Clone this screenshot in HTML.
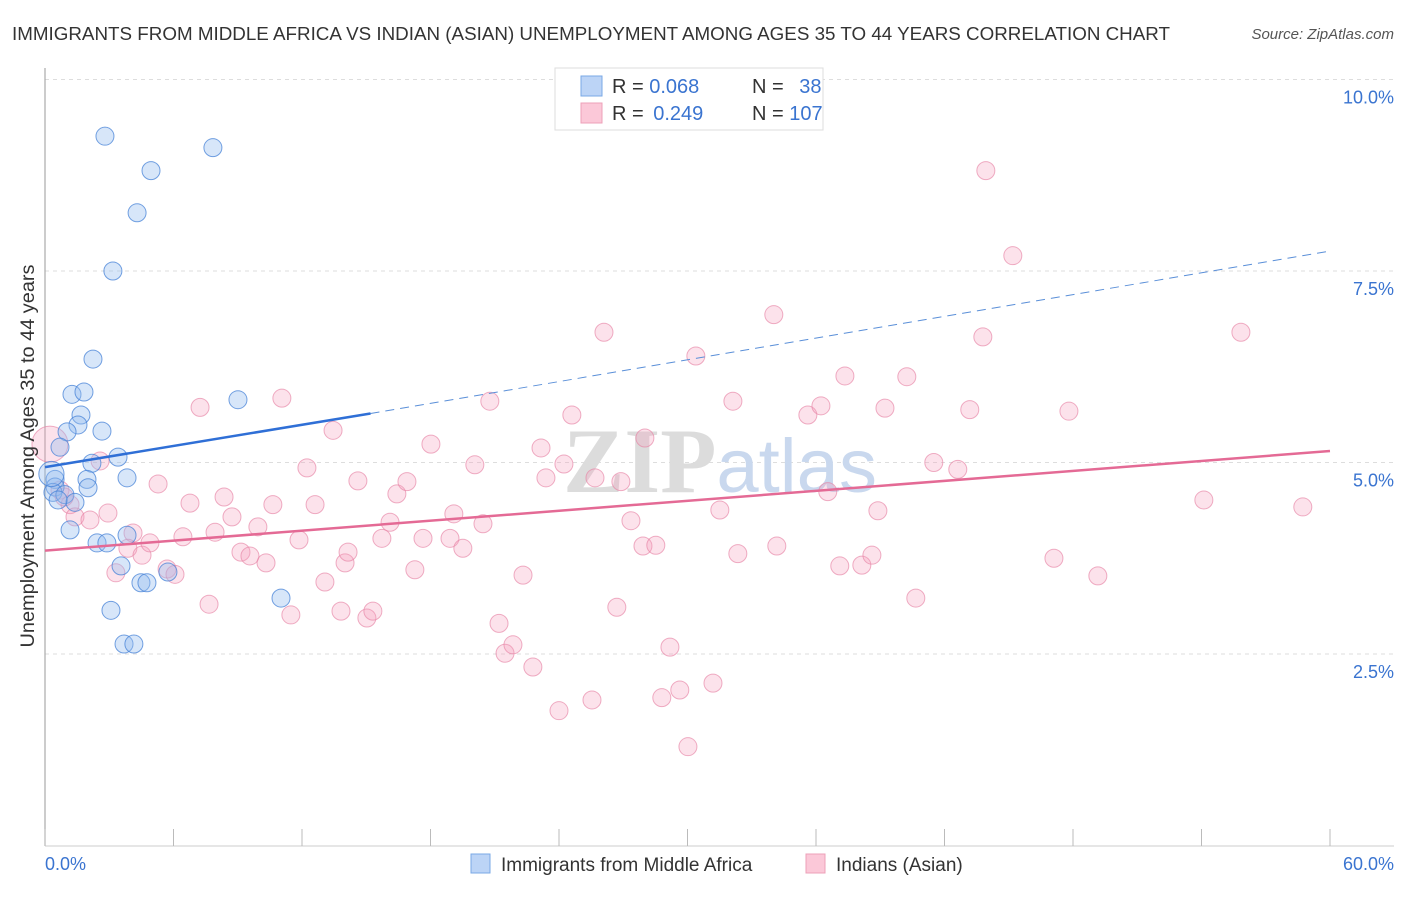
<!DOCTYPE html>
<html><head><meta charset="utf-8"><style>
body{margin:0;background:#fff;font-family:"Liberation Sans",sans-serif;}
svg text{font-family:"Liberation Sans",sans-serif;}
</style></head><body>
<svg id="chart" width="1406" height="892" viewBox="0 0 1406 892" xmlns="http://www.w3.org/2000/svg">
<text x="12" y="40" font-size="18" fill="#333" textLength="1158" lengthAdjust="spacingAndGlyphs">IMMIGRANTS FROM MIDDLE AFRICA VS INDIAN (ASIAN) UNEMPLOYMENT AMONG AGES 35 TO 44 YEARS CORRELATION CHART</text>
<text x="1394" y="39" font-size="15" fill="#555" font-style="italic" text-anchor="end">Source: ZipAtlas.com</text>
<g id="grid"></g>
<g id="ylabels"></g>
<text x="720" y="492" font-size="92" text-anchor="middle"><tspan fill="#dcdcdc" font-family="Liberation Serif" font-weight="bold">ZIP</tspan><tspan fill="#c9d8ee" font-size="76">atlas</tspan></text>
<line x1="45" y1="68" x2="45" y2="846" stroke="#aaa" stroke-width="1.2"/>
<line x1="45" y1="846" x2="1394" y2="846" stroke="#ccc" stroke-width="1"/>
<g id="xticks"></g>
<g id="pinkpts"></g>
<g id="bluepts"></g>
<g id="trends"></g>
<text transform="translate(34,456) rotate(-90)" font-size="19" fill="#333" text-anchor="middle" textLength="383" lengthAdjust="spacingAndGlyphs">Unemployment Among Ages 35 to 44 years</text>
<text x="45" y="870" font-size="18" fill="#3a74d0">0.0%</text>
<text x="1394" y="870" font-size="18" fill="#3a74d0" text-anchor="end">60.0%</text>
<g>
<rect x="555" y="68" width="268" height="62" fill="#fff" stroke="#ddd"/>
<rect x="581" y="76" width="21" height="20" fill="#bcd4f6" stroke="#7aa8e6"/>
<rect x="581" y="103" width="21" height="20" fill="#fbc8d8" stroke="#eea0b8"/>
<text x="612" y="93" font-size="20" fill="#333">R = <tspan fill="#3a74d0">0.068</tspan></text>
<text x="752" y="93" font-size="20" fill="#333">N = <tspan fill="#3a74d0" dx="10">38</tspan></text>
<text x="612" y="120" font-size="20" fill="#333">R = <tspan fill="#3a74d0" dx="4">0.249</tspan></text>
<text x="752" y="120" font-size="20" fill="#333">N = <tspan fill="#3a74d0">107</tspan></text>
</g>
<g>
<rect x="471" y="854" width="19" height="19" fill="#bcd4f6" stroke="#7aa8e6"/>
<text x="501" y="871" font-size="19" fill="#333">Immigrants from Middle Africa</text>
<rect x="806" y="854" width="19" height="19" fill="#fbc8d8" stroke="#eea0b8"/>
<text x="836" y="871" font-size="19" fill="#333">Indians (Asian)</text>
</g>
</svg>
<script>
const yTicks=[2.5,5.0,7.5,10.0];
const yTickLabels=["2.5%","5.0%","7.5%","10.0%"];
const xTicks=[0,6,12,18,24,30,36,42,48,54,60];
const blueX=[2.80,7.84,4.95,4.30,3.17,2.24,1.26,1.82,1.68,1.54,1.03,2.66,0.70,3.41,2.19,3.83,0.47,0.47,1.96,2.01,0.37,0.93,1.40,0.61,1.17,2.43,3.83,2.89,3.55,4.48,4.76,5.74,3.08,3.69,4.15,11.02,9.01,0.30];
const blueY=[9.26,9.11,8.81,8.26,7.50,6.35,5.89,5.92,5.62,5.49,5.40,5.41,5.20,5.07,4.99,4.80,4.78,4.68,4.78,4.67,4.61,4.58,4.48,4.51,4.12,3.95,4.05,3.95,3.65,3.43,3.43,3.57,3.07,2.63,2.63,3.23,5.82,4.85];
const blueSize=[1,1,1,1,1,1,1,1,1,1,1,1,1,1,1,1,1,1,1,1,1,1,1,1,1,1,1,1,1,1,1,1,1,1,1,1,1,1.4];
const pinkX=[0.23,2.57,0.70,1.17,1.40,2.10,2.94,4.11,3.87,4.53,3.31,4.90,5.28,5.70,6.07,6.44,6.77,7.24,7.66,7.94,8.36,8.73,9.15,9.57,9.94,10.32,10.64,11.06,11.48,11.86,12.23,12.61,13.07,13.45,13.82,14.01,14.15,14.61,15.03,15.31,15.73,16.11,16.43,16.90,17.27,17.65,18.02,18.91,19.09,19.51,20.07,20.45,20.77,21.20,21.48,21.85,22.32,22.78,23.16,23.39,24.00,24.23,24.60,25.54,25.68,26.10,26.70,26.89,27.36,27.92,28.01,28.52,28.80,29.18,29.64,30.02,30.39,31.19,31.51,32.12,32.35,34.03,34.17,35.62,36.23,36.55,37.11,37.35,38.14,38.61,38.89,39.22,40.24,40.66,41.50,42.62,43.18,43.79,43.93,45.19,47.11,47.81,49.16,54.11,55.84,58.73,0.9];
const pinkY=[5.24,5.02,4.64,4.45,4.29,4.25,4.34,4.08,3.88,3.79,3.56,3.95,4.72,3.61,3.54,4.03,4.47,5.72,3.15,4.09,4.55,4.29,3.83,3.78,4.16,3.69,4.45,5.84,3.01,3.99,4.93,4.45,3.44,5.42,3.06,3.69,3.83,4.76,2.97,3.06,4.01,4.22,4.59,4.75,3.60,4.01,5.24,4.01,4.33,3.88,4.97,4.20,5.80,2.90,2.51,2.62,3.53,2.33,5.19,4.80,1.76,4.98,5.62,1.90,4.80,6.70,3.11,4.75,4.24,3.91,5.32,3.92,1.93,2.59,2.03,1.29,6.39,2.12,4.38,5.80,3.81,6.93,3.91,5.62,5.74,4.62,3.65,6.13,3.66,3.79,4.37,5.71,6.12,3.23,5.00,4.91,5.69,6.64,8.81,7.70,3.75,5.67,3.52,4.51,6.70,4.42,4.55];
const pinkSize=[2.0];
const blueTrendX=[0,15.2,60];
const blueTrendY=[4.94,5.64,7.76];
const pinkTrendX=[0,60];
const pinkTrendY=[3.85,5.15];

const X0=45,X1=1330,Y0=845.5,YP=76.6;
function sx(v){return X0+(v/60)*(X1-X0);}
function sy(v){return Y0-v*YP;}
const NS="http://www.w3.org/2000/svg";
function mk(tag,attrs,parent){const e=document.createElementNS(NS,tag);for(const k in attrs)e.setAttribute(k,attrs[k]);parent.appendChild(e);return e;}
const grid=document.getElementById('grid'),yl=document.getElementById('ylabels');
yTicks.forEach((t,i)=>{
 const l=mk('line',{x1:45,x2:1394,y1:sy(t),y2:sy(t),stroke:'#ddd','stroke-dasharray':'4,4'},grid);
 
 
 const tx=mk('text',{x:1394,y:sy(t)+24,'font-size':18,fill:'#3a74d0','text-anchor':'end'},yl);
 tx.textContent=yTickLabels[i];
 
 
});
const xt=document.getElementById('xticks');
xTicks.forEach(t=>{
 const l=mk('line',{x1:sx(t),x2:sx(t),y1:829,y2:846,stroke:'#bbb'},xt);
 
 
});
const pp=document.getElementById('pinkpts');
pinkX.forEach((x,i)=>{
 const s=pinkSize[i]||1;
 const c=mk('circle',{cx:sx(x),cy:sy(pinkY[i]),r:9*s,fill:'rgba(244,160,188,0.3)',stroke:'rgba(230,130,165,0.65)','stroke-width':1},pp);
 
 
});
const bp=document.getElementById('bluepts');
blueX.forEach((x,i)=>{
 const s=blueSize[i]||1;
 const c=mk('circle',{cx:sx(x),cy:sy(blueY[i]),r:9*s,fill:'rgba(150,190,240,0.38)',stroke:'rgba(70,130,215,0.75)','stroke-width':1},bp);
 
 
});
const tr=document.getElementById('trends');
const b1=mk('line',{x1:sx(blueTrendX[0]),y1:sy(blueTrendY[0]),x2:sx(blueTrendX[1]),y2:sy(blueTrendY[1]),stroke:'#2f6fd6','stroke-width':2.5},tr);


const b2=mk('line',{x1:sx(blueTrendX[1]),y1:sy(blueTrendY[1]),x2:sx(blueTrendX[2]),y2:sy(blueTrendY[2]),stroke:'#5a8fd8','stroke-width':1,'stroke-dasharray':'9,6'},tr);


const p1=mk('line',{x1:sx(pinkTrendX[0]),y1:sy(pinkTrendY[0]),x2:sx(pinkTrendX[1]),y2:sy(pinkTrendY[1]),stroke:'#e46a95','stroke-width':2.5},tr);


</script>
</body></html>
